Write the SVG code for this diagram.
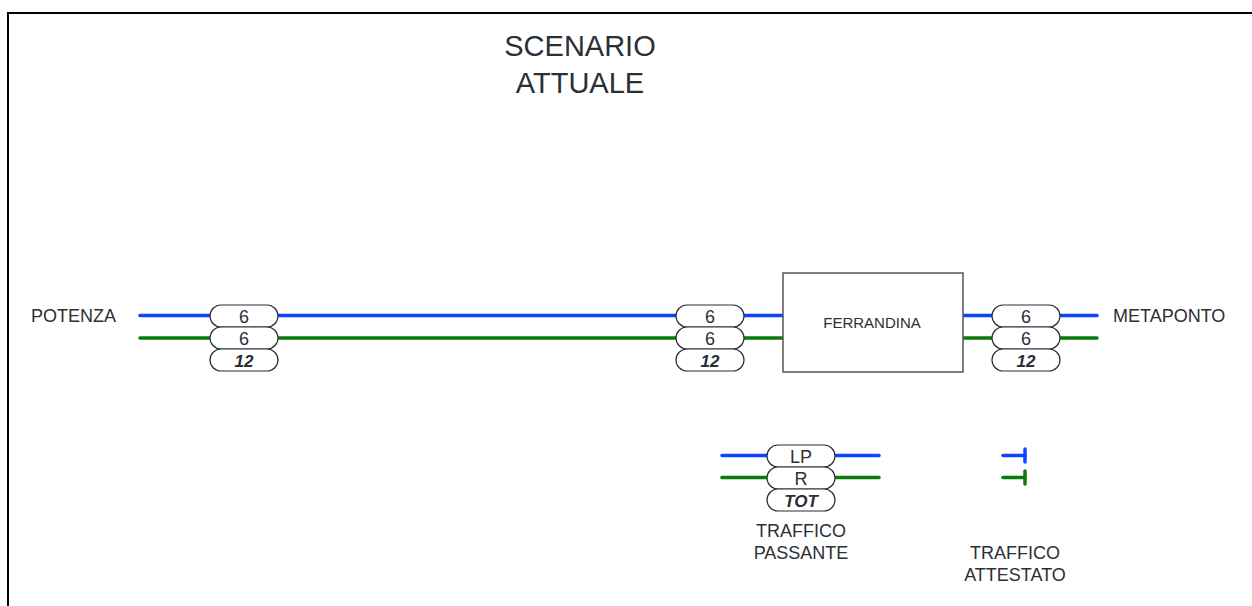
<svg xmlns="http://www.w3.org/2000/svg" width="1252" height="606" viewBox="0 0 1252 606">
<style>
.t{font-family:"Liberation Sans",Arial,sans-serif;fill:#2b2f36}
.lbl{font-size:18px}
.pill{fill:#fff;stroke:#2b2f36;stroke-width:1.2}
.pt{font-family:"Liberation Sans",Arial,sans-serif;font-size:18px;fill:#2b2f36;text-anchor:middle}
.pb{font-weight:bold;font-style:italic;font-size:17px}
.b{stroke:#0a46ff;stroke-width:3.5;fill:none;stroke-linecap:round}
.g{stroke:#0a7a0a;stroke-width:3.5;fill:none;stroke-linecap:round}
</style>
<rect x="0" y="0" width="1252" height="606" fill="#fff"/>
<rect x="8" y="13" width="1260" height="620" fill="none" stroke="#000" stroke-width="2"/>
<g id="title"><text class="t" font-size="29" text-anchor="middle" x="580" y="56">SCENARIO</text><text class="t" font-size="29" text-anchor="middle" x="580" y="93">ATTUALE</text></g>
<g id="connectors">
<line class="b" x1="140" y1="315.5" x2="210" y2="315.5"/><line class="b" x1="279" y1="315.5" x2="676" y2="315.5"/><line class="b" x1="744" y1="315.5" x2="782" y2="315.5"/><line class="b" x1="964" y1="315.5" x2="992" y2="315.5"/><line class="b" x1="1061" y1="315.5" x2="1097" y2="315.5"/>
<line class="g" x1="140" y1="338" x2="210" y2="338"/><line class="g" x1="279" y1="338" x2="676" y2="338"/><line class="g" x1="744" y1="338" x2="782" y2="338"/><line class="g" x1="964" y1="338" x2="992" y2="338"/><line class="g" x1="1061" y1="338" x2="1097" y2="338"/>
<line class="b" x1="722" y1="455.5" x2="767" y2="455.5"/><line class="b" x1="836" y1="455.5" x2="879" y2="455.5"/>
<line class="g" x1="722" y1="477.5" x2="767" y2="477.5"/><line class="g" x1="836" y1="477.5" x2="879" y2="477.5"/>
<line class="b" x1="1003" y1="455.5" x2="1025" y2="455.5"/><line class="b" x1="1025" y1="449" x2="1025" y2="462"/>
<line class="g" x1="1003" y1="477.5" x2="1025" y2="477.5"/><line class="g" x1="1025" y1="471" x2="1025" y2="484"/>
</g>
<g id="potenza"><text class="t lbl" x="31" y="322">POTENZA</text></g>
<g id="metaponto"><text class="t lbl" x="1113" y="322">METAPONTO</text></g>
<g id="pills-left">
<rect class="pill" x="210" y="305" width="68" height="22" rx="11"/><text class="pt" x="244" y="322.5">6</text>
<rect class="pill" x="210" y="327" width="68" height="22" rx="11"/><text class="pt" x="244" y="344.5">6</text>
<rect class="pill" x="210" y="349" width="68" height="22" rx="11"/><text class="pt pb" x="244" y="366.5">12</text>
</g>
<g id="pills-mid">
<rect class="pill" x="676" y="305" width="68" height="22" rx="11"/><text class="pt" x="710" y="322.5">6</text>
<rect class="pill" x="676" y="327" width="68" height="22" rx="11"/><text class="pt" x="710" y="344.5">6</text>
<rect class="pill" x="676" y="349" width="68" height="22" rx="11"/><text class="pt pb" x="710" y="366.5">12</text>
</g>
<g id="ferrandina"><rect x="783" y="273" width="180" height="99" fill="#fff" stroke="#555" stroke-width="1.5"/><text class="t" font-size="15" text-anchor="middle" x="872" y="328">FERRANDINA</text></g>
<g id="pills-right">
<rect class="pill" x="992" y="305" width="68" height="22" rx="11"/><text class="pt" x="1026" y="322.5">6</text>
<rect class="pill" x="992" y="327" width="68" height="22" rx="11"/><text class="pt" x="1026" y="344.5">6</text>
<rect class="pill" x="992" y="349" width="68" height="22" rx="11"/><text class="pt pb" x="1026" y="366.5">12</text>
</g>
<g id="legend-passante">
<rect class="pill" x="767" y="445" width="68" height="22" rx="11"/><text class="pt" x="801" y="462.5">LP</text>
<rect class="pill" x="767" y="467" width="68" height="22" rx="11"/><text class="pt" x="801" y="484.5">R</text>
<rect class="pill" x="767" y="489" width="68" height="22" rx="11"/><text class="pt pb" x="801" y="506.5">TOT</text>
<text class="t" font-size="18" text-anchor="middle" x="801" y="537">TRAFFICO</text><text class="t" font-size="18" text-anchor="middle" x="801" y="559">PASSANTE</text>
</g>
<g id="legend-attestato">
<text class="t" font-size="18" text-anchor="middle" x="1015" y="559">TRAFFICO</text><text class="t" font-size="18" text-anchor="middle" x="1015" y="581">ATTESTATO</text>
</g>
</svg>
